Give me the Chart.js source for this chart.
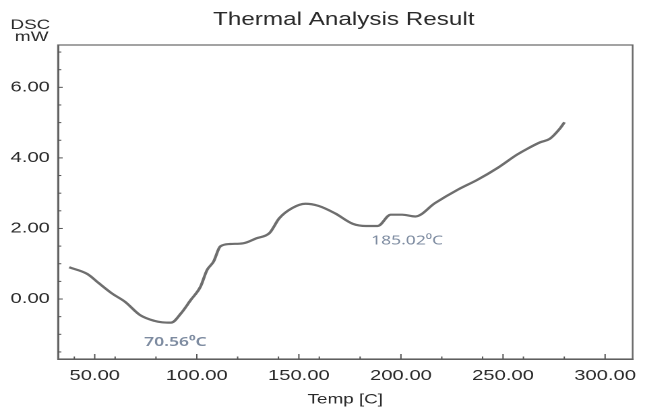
<!DOCTYPE html>
<html>
<head>
<meta charset="utf-8">
<script src="https://cdn.jsdelivr.net/npm/chart.js@4.4.1/dist/chart.umd.min.js"></script>
<style>
  html, body { margin: 0; padding: 0; background: #fff; overflow: hidden; }
  /* the reference picture is stretched sideways, so the chart is drawn narrow and widened */
  #wrap { width: 480px; height: 410px; transform: scaleX(1.348); transform-origin: 0 0; }
</style>
</head>
<body>
<div id="wrap"><canvas id="chart"></canvas></div>
<script>
// data
const temps = [37.5, 46.4, 52, 58.4, 64.9, 72.1, 79.3, 83, 87.4, 92.2, 97, 101.8, 105, 108.2, 111.5,
  116.3, 122.7, 129.1, 135.6, 140.4, 146.8, 153.2, 159.6, 167.7, 176.5, 182.9, 188.6, 195, 200.6, 207,
  216.7, 227.9, 237.5, 247.2, 256.8, 261.6, 268.1, 272.9, 277.7, 280.1];
const dsc = [0.90, 0.71, 0.45, 0.16, -0.08, -0.45, -0.62, -0.66, -0.67, -0.41, -0.03, 0.35, 0.82, 1.06, 1.49,
  1.56, 1.58, 1.72, 1.87, 2.29, 2.58, 2.70, 2.64, 2.43, 2.13, 2.07, 2.07, 2.39, 2.39, 2.34,
  2.72, 3.10, 3.38, 3.71, 4.09, 4.25, 4.44, 4.54, 4.82, 5.01];

// ticks
const xMajorTicks = [50, 100, 150, 200, 250, 300];
const xMinorTicks = [40, 60, 80, 120, 140, 160, 180, 220, 240, 260, 280];
const yMajorTicks = [0, 2, 4, 6];
const yMinorTicks = [-1.5, -1, -0.5, 0.5, 1, 1.5, 2.5, 3, 3.5, 4.5, 5, 5.5, 6.5, 7];

// peak labels
const peakLabels = ['70.56\u2070C', '185.02\u2070C'];
const peakLabelAt = [[89.5, -1.22], [203, 1.65]];

const points = temps.map((t, i) => ({ x: t, y: dsc[i] }));

function allTicks(major, minor) {
  return major.concat(minor).sort((a, b) => a - b).map(v => ({ value: v }));
}

//texts and inward tick marks
const extras = {
  id: 'extras',
  afterDraw(chart) {
    const ctx = chart.ctx;
    const area = chart.chartArea;
    const xs = chart.scales.x;
    const ys = chart.scales.y;
    ctx.save();

    ctx.strokeStyle = '#666';
    ctx.lineWidth = 1.2;
    ctx.strokeRect(area.left, area.top, area.right - area.left, area.bottom - area.top);

    ctx.strokeStyle = '#555';
    ctx.lineWidth = 1;
    xs.ticks.forEach(t => {
      const px = xs.getPixelForValue(t.value);
      const len = xMajorTicks.includes(t.value) ? 5 : 2.5;
      ctx.beginPath();
      ctx.moveTo(px, area.bottom);
      ctx.lineTo(px, area.bottom - len);
      ctx.stroke();
    });
    ys.ticks.forEach(t => {
      const py = ys.getPixelForValue(t.value);
      const len = yMajorTicks.includes(t.value) ? 3.5 : 2.5;
      ctx.beginPath();
      ctx.moveTo(area.left, py);
      ctx.lineTo(area.left + len, py);
      ctx.stroke();
    });

    ctx.fillStyle = '#2a2a2a';
    ctx.textAlign = 'center';
    ctx.textBaseline = 'middle';
    ctx.font = '18px "Liberation Sans", Arial, sans-serif';
    ctx.fillText('Thermal Analysis Result', 255, 20);

    ctx.font = '14px "Liberation Sans", Arial, sans-serif';
    ctx.fillText('DSC', 22.5, 25);
    ctx.fillText('mW', 23.5, 37);

    ctx.fillStyle = '#7d8ba0';
    peakLabels.forEach((txt, i) => {
      ctx.font = (i === 0 ? '600 ' : '') + '13px "Noto Sans", sans-serif';
      ctx.fillText(txt, xs.getPixelForValue(peakLabelAt[i][0]), ys.getPixelForValue(peakLabelAt[i][1]));
    });
    ctx.restore();
  }
};

new Chart(document.getElementById('chart'), {
  type: 'scatter',
  data: {
    datasets: [{
      label: 'DSC',
      data: points,
      showLine: true,
      borderColor: '#6e6e6e',
      borderWidth: 2.2,
      pointRadius: 0,
      tension: 0.35,
      cubicInterpolationMode: 'monotone'
    }]
  },
  options: {
    responsive: true,
    maintainAspectRatio: false,
    animation: false,
    devicePixelRatio: 2,
    layout: { padding: { top: 45, right: 3.7, left: 0, bottom: 0 } },
    plugins: {
      legend: { display: false },
      tooltip: { enabled: false }
    },
    scales: {
      x: {
        type: 'linear',
        min: 32,
        max: 313.5,
        afterBuildTicks: s => { s.ticks = allTicks(xMajorTicks, xMinorTicks); },
        afterFit: s => { s.height = 51; },
        grid: { display: false, drawTicks: false },
        border: { display: true, color: '#555', width: 1.5 },
        ticks: {
          autoSkip: false,
          maxRotation: 0,
          padding: 8,
          color: '#2a2a2a',
          font: { family: '"Liberation Sans", Arial, sans-serif', size: 15 },
          callback: v => xMajorTicks.includes(v) ? v.toFixed(2) : ''
        },
        title: {
          display: true,
          text: 'Temp [C]',
          color: '#2a2a2a',
          padding: { top: 0, bottom: 2 },
          font: { family: '"Liberation Sans", Arial, sans-serif', size: 14 }
        }
      },
      y: {
        type: 'linear',
        min: -1.7,
        max: 7.2,
        afterBuildTicks: s => { s.ticks = allTicks(yMajorTicks, yMinorTicks); },
        afterFit: s => { s.width = 43; },
        grid: { display: false, drawTicks: false },
        border: { display: true, color: '#555', width: 1.5 },
        ticks: {
          autoSkip: false,
          padding: 6,
          color: '#2a2a2a',
          font: { family: '"Liberation Sans", Arial, sans-serif', size: 15 },
          callback: v => yMajorTicks.includes(v) ? v.toFixed(2) : ''
        }
      }
    }
  },
  plugins: [extras]
});
</script>
</body>
</html>
